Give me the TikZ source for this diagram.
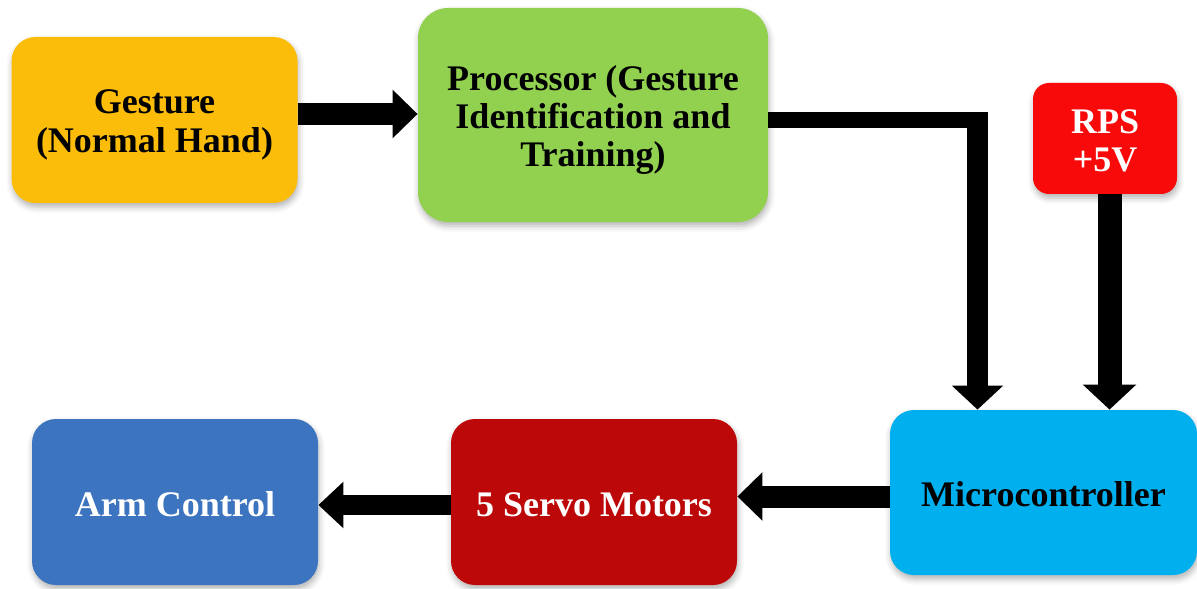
\documentclass[tikz,border=0pt]{standalone}
\usepackage{fontspec}
\setmainfont{Liberation Serif}
\usetikzlibrary{arrows.meta,shadows.blur,calc}

\definecolor{cGold}{HTML}{FBBC0A}
\definecolor{cGreen}{HTML}{92D050}
\definecolor{cRed}{HTML}{F80A0A}
\definecolor{cCyan}{HTML}{00B0EE}
\definecolor{cDark}{HTML}{BC0808}
\definecolor{cBlue}{HTML}{3C74C0}

% invisible strut that lowers a label a little inside its box
\newcommand{\lift}[1]{\rule{0pt}{#1}}

\tikzset{
  block/.style={rounded corners=12pt, minimum width=143pt, minimum height=83pt,
    inner sep=0pt, align=center, font=\fontsize{18}{19.2}\selectfont\bfseries,
    blur shadow={shadow xshift=0.5pt, shadow yshift=-2pt, shadow blur radius=3pt, shadow opacity=30}},
  conn/.style={draw=black, line width=11pt, -{Triangle[length=12.5pt,width=23.5pt]}},
  shaft/.style={draw=black, line width=8pt},
}

\begin{document}
\begin{tikzpicture}[x=0.5pt,y=-0.5pt]
\useasboundingbox (0,0) rectangle (1197,588);

% blocks
\node[block, fill=cGold] (g) at (154.5,120) {\lift{17pt}Gesture\\(Normal Hand)};
\node[block, fill=cGreen, minimum width=175pt, minimum height=107pt, rounded corners=15pt] (p) at (593,115)
  {\lift{17.5pt}Processor (Gesture\\Identification and\\Training)};
\node[block, fill=cRed, text=white, minimum width=72pt, minimum height=55.5pt, rounded corners=8pt] (rps) at (1105,138.5)
  {\lift{14.5pt}RPS\\+5V};
\node[block, fill=cCyan, minimum width=153.5pt, minimum height=82.5pt] (mc) at (1043.5,492.5) {\lift{14pt}Microcontroller};
\node[block, fill=cDark, text=white] (sv) at (594,502) {\lift{15pt}5 Servo Motors};
\node[block, fill=cBlue, text=white] (arm) at (175,502) {\lift{15pt}Arm Control};

% connectors
\draw[conn] ([yshift=3pt]g.east) -- ([yshift=3pt]g.east -| p.west);

\coordinate (bend) at (977.5,120);
\draw[shaft] (p.east |- bend) -- ([xshift=5.25pt]bend);
\draw[conn, line width=10.5pt, -{Triangle[length=12pt,width=25pt]}] ([yshift=4pt]bend) -- (bend |- mc.north);

\coordinate (rpsout) at (1109.5,0);
\draw[conn, line width=12pt, -{Triangle[length=12.5pt,width=26pt]}] (rpsout |- rps.south) -- (rpsout |- mc.north);

\draw[conn] ([yshift=-2pt]mc.west) -- ([yshift=-2pt]mc.west -| sv.east);
\draw[conn, line width=10pt, -{Triangle[length=12.5pt,width=22.5pt]}] ([yshift=-1.5pt]sv.west) -- ([yshift=-1.5pt]sv.west -| arm.east);
\end{tikzpicture}
\end{document}
